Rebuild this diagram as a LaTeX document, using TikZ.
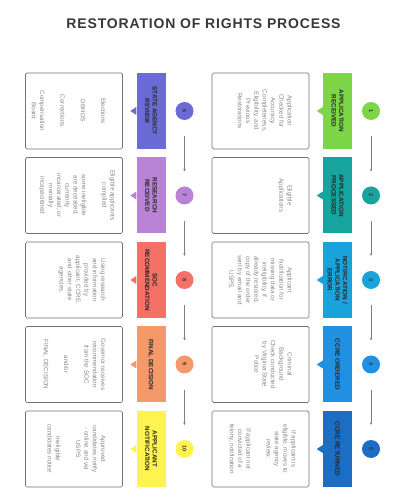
\documentclass[tikz,border=0pt]{standalone}
\usepackage{fontspec}
\setmainfont{Liberation Sans}
\newfontfamily\titlefont[LetterSpace=6]{Liberation Sans}
\usetikzlibrary{arrows.meta}
\definecolor{cA}{HTML}{7DD648}
\definecolor{cB}{HTML}{17A39E}
\definecolor{cC}{HTML}{1AA3DB}
\definecolor{cD}{HTML}{2190E0}
\definecolor{cE}{HTML}{1C6DC4}
\definecolor{cF}{HTML}{6B6BD6}
\definecolor{cG}{HTML}{B983D6}
\definecolor{cH}{HTML}{F57168}
\definecolor{cI}{HTML}{F5986A}
\definecolor{cJ}{HTML}{FFF350}
\definecolor{titlegray}{HTML}{383838}
\definecolor{descgray}{HTML}{8A8A8A}
\newcommand\rowstep[7]{%
  \node[cbox, fill=#2] (b#1) at (337.5+#3,#4) {};
  \fill[#2] ([yshift=4pt]b#1.west) -- ([xshift=-6pt]b#1.west) -- ([yshift=-4pt]b#1.west) -- cycle;
  \node[lab] (l#1) at (b#1.center) {#5};
  \node[wbox] (w#1) at (260.5+#3,#4) {};
  \node[desc] (d#1) at ([xshift=-#7pt]w#1.east) {#6};
  \node[num, fill=#2] (c#1) at (371+#3,#4) {#1};
}
\begin{document}
\begin{tikzpicture}[x=1pt,y=1pt,
  cbox/.style={draw=none, minimum width=29pt, minimum height=76pt, inner sep=0pt},
  wbox/.style={draw=black!55, line width=0.7pt, rounded corners=1.5pt, minimum width=97pt, minimum height=76pt, inner sep=0pt},
  lab/.style={rotate=-90, font=\bfseries\fontsize{6.3}{7.6}\selectfont, text=black!85, align=center, inner sep=0pt},
  desc/.style={rotate=-90, anchor=north, font=\fontsize{6.3}{8.3}\selectfont, text=descgray, align=center, inner sep=0pt},
  num/.style={circle, rotate=-90, minimum size=18pt, inner sep=0pt, font=\bfseries\fontsize{5.5}{6}\selectfont, text=black!80},
  conn/.style={draw=black!50, line width=0.6pt, -{Stealth[length=2.5pt,width=2.5pt]}, shorten <=16pt, shorten >=15pt}
]
\useasboundingbox (0,0) rectangle (409,500);
\fill[white] (0,0) rectangle (409,500);
\node[font=\titlefont\bfseries\fontsize{14}{14}\selectfont, text=titlegray] (title) at (203.5,476) {RESTORATION OF RIGHTS PROCESS};
\rowstep{1}{cA}{0}{389}{APPLICATION\\RECEIVED}{Application\\Checked for\\Accuracy,\\Completeness,\\Eligibility, and\\Previous\\Restorations}{17}
\rowstep{2}{cB}{0}{304.5}{APPLICATION\\PROCESSED}{Eligible\\Applications}{17}
\rowstep{3}{cC}{0}{220}{NOTIFICATION /\\APPLICATION\\ERROR}{Applicant\\Notification for\\missing data or\\ineligibility, if\\already restored,\\copy of the order\\sent by email and\\USPS.}{17}
\rowstep{4}{cD}{0}{135.5}{CCRE ORDERED}{Criminal\\Background\\Check conducted\\by Virginia State\\Police}{17}
\rowstep{5}{cE}{0}{51}{CCRE RETURNED}{If applicant is\\eligible, moves to\\state agency\\review.\\[12pt]If applicant not\\convicted of a\\felony, notification}{13}
\rowstep{6}{cF}{-186.5}{389}{STATE AGENCY\\REVIEW}{Elections\\[12pt]DBHDS\\[12pt]Corrections\\[12pt]Compensation\\Board}{17}
\rowstep{7}{cG}{-186.5}{304.5}{RESEARCH\\RECEIVED}{Eligible applicants\\compiled\\[12pt]some ineligible\\are deceased,\\currently\\incarcerated, or\\mentally\\incapacitated}{7.5}
\rowstep{8}{cH}{-186.5}{220}{SOC\\RECOMMENDATION}{Using research\\and information\\provided by\\applicant, CCRE,\\and other state\\agencies.}{17}
\rowstep{9}{cI}{-186.5}{135.5}{FINAL DECISION}{Governor receives\\recommendation\\from the SOC\\[12pt]and/or\\[12pt]FINAL DECISION}{17}
\rowstep{10}{cJ}{-186.5}{51}{APPLICANT\\NOTIFICATION}{Approved\\candidates notify\\- online and via\\USPS\\[12pt]Ineligible\\candidates notice}{17}
\draw[conn] (c1) -- (c2);
\draw[conn] (c2) -- (c3);
\draw[conn] (c3) -- (c4);
\draw[conn] (c4) -- (c5);
\draw[conn] (c6) -- (c7);
\draw[conn] (c7) -- (c8);
\draw[conn] (c8) -- (c9);
\draw[conn] (c9) -- (c10);
\end{tikzpicture}
\end{document}
